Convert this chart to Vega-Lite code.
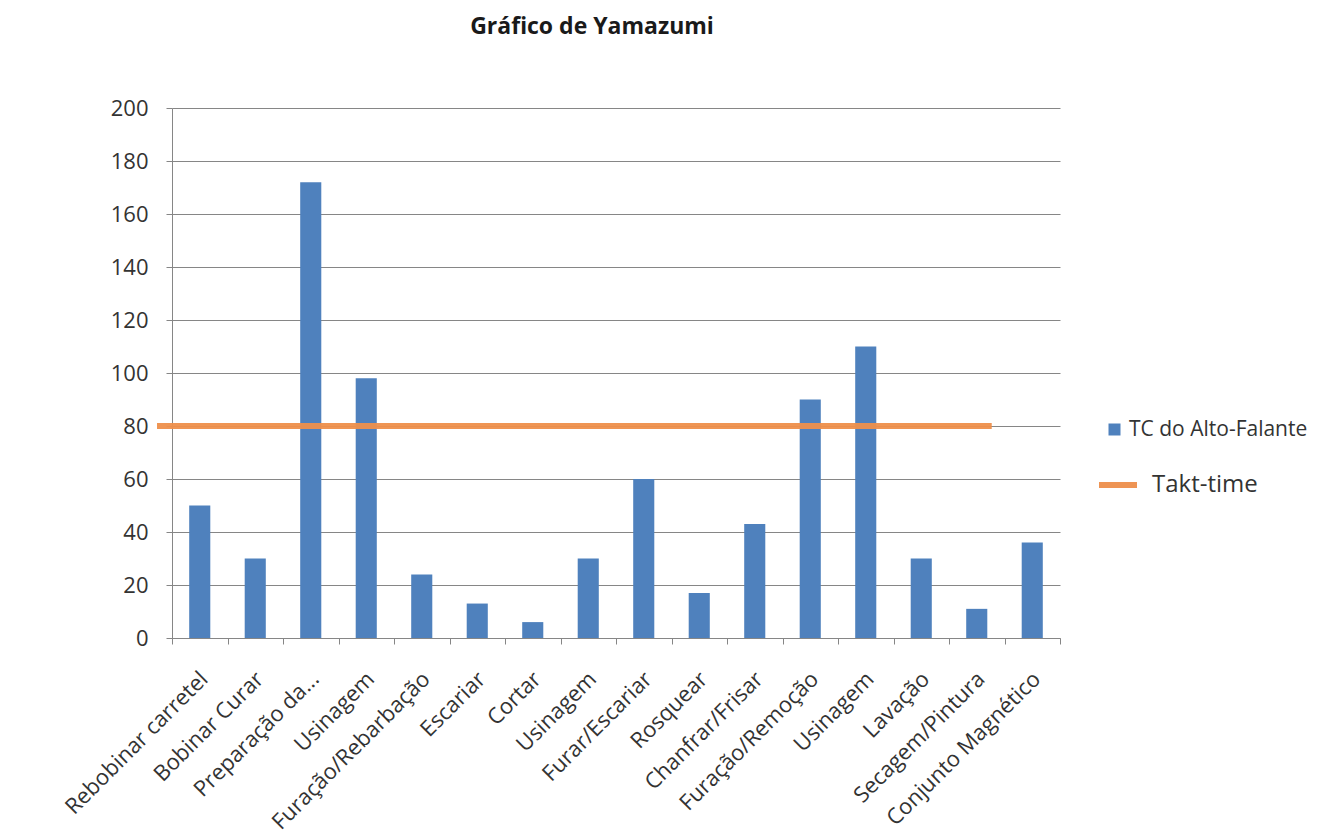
{
  "$schema": "https://vega.github.io/schema/vega-lite/v6.json",
  "width": 888,
  "height": 530,
  "autosize": {"type": "none"},
  "padding": {"left": 172, "top": 108, "right": 281, "bottom": 201},
  "background": "white",
  "title": {
    "text": "Gráfico de Yamazumi",
    "font": "Open Sans",
    "fontSize": 23,
    "fontWeight": "bold",
    "color": "#1a1a1a",
    "anchor": "middle",
    "dx": -24,
    "offset": 58
  },
  "datasets": {
    "etapas": [
      {"chave": "01|Rebobinar carretel", "tc": 50, "serie": "TC do Alto-Falante"},
      {"chave": "02|Bobinar Curar", "tc": 30, "serie": "TC do Alto-Falante"},
      {"chave": "03|Preparação da...", "tc": 172, "serie": "TC do Alto-Falante"},
      {"chave": "04|Usinagem", "tc": 98, "serie": "TC do Alto-Falante"},
      {"chave": "05|Furação/Rebarbação", "tc": 24, "serie": "TC do Alto-Falante"},
      {"chave": "06|Escariar", "tc": 13, "serie": "TC do Alto-Falante"},
      {"chave": "07|Cortar", "tc": 6, "serie": "TC do Alto-Falante"},
      {"chave": "08|Usinagem", "tc": 30, "serie": "TC do Alto-Falante"},
      {"chave": "09|Furar/Escariar", "tc": 60, "serie": "TC do Alto-Falante"},
      {"chave": "10|Rosquear", "tc": 17, "serie": "TC do Alto-Falante"},
      {"chave": "11|Chanfrar/Frisar", "tc": 43, "serie": "TC do Alto-Falante"},
      {"chave": "12|Furação/Remoção", "tc": 90, "serie": "TC do Alto-Falante"},
      {"chave": "13|Usinagem", "tc": 110, "serie": "TC do Alto-Falante"},
      {"chave": "14|Lavação", "tc": 30, "serie": "TC do Alto-Falante"},
      {"chave": "15|Secagem/Pintura", "tc": 11, "serie": "TC do Alto-Falante"},
      {"chave": "16|Conjunto Magnético", "tc": 36, "serie": "TC do Alto-Falante"}
    ],
    "takt": [
      {"referencia": "Takt-time", "tempo": 80, "inicio": -0.27, "fim": 14.77}
    ]
  },
  "layer": [
    {
      "data": {"name": "etapas"},
      "mark": {"type": "bar", "width": {"band": 0.38}},
      "encoding": {
        "x": {
          "field": "chave",
          "type": "nominal",
          "sort": null,
          "scale": {"paddingInner": 0, "paddingOuter": 0},
          "axis": {
            "title": null,
            "labelExpr": "split(datum.value, '|')[1]",
            "labelAngle": -45,
            "labelAlign": "right",
            "labelBaseline": "top",
            "labelFont": "Open Sans",
            "labelFontSize": 22,
            "labelColor": "#333333",
            "labelPadding": 24,
            "labelOffset": -3,
            "labelLimit": 400,
            "labelOverlap": false,
            "tickBand": "extent",
            "tickSize": 6,
            "tickColor": "#868686",
            "domainColor": "#868686",
            "grid": false
          }
        },
        "y": {
          "field": "tc",
          "type": "quantitative",
          "scale": {"domain": [0, 200], "nice": false},
          "axis": {
            "title": null,
            "values": [0, 20, 40, 60, 80, 100, 120, 140, 160, 180, 200],
            "labelFont": "Open Sans",
            "labelFontSize": 22,
            "labelColor": "#333333",
            "labelPadding": 18,
            "tickSize": 6,
            "tickColor": "#868686",
            "domainColor": "#868686",
            "grid": true,
            "gridColor": "#868686",
            "gridOpacity": 1
          }
        },
        "color": {
          "field": "serie",
          "type": "nominal",
          "scale": {"range": ["#4F81BD"]},
          "legend": {
            "title": null,
            "orient": "none",
            "legendX": 932,
            "legendY": 311,
            "padding": 0,
            "symbolType": "square",
            "symbolSize": 144,
            "symbolOpacity": 1,
            "labelFont": "Open Sans",
            "labelFontSize": 21,
            "labelColor": "#333333",
            "labelOffset": 4,
            "labelLimit": 400
          }
        }
      }
    },
    {
      "data": {"name": "takt"},
      "mark": {"type": "rule", "strokeWidth": 6, "opacity": 0.95},
      "encoding": {
        "x": {
          "field": "inicio",
          "type": "quantitative",
          "scale": {"domain": [0, 16], "nice": false, "zero": false},
          "axis": null
        },
        "x2": {"field": "fim"},
        "y": {"field": "tempo", "type": "quantitative"},
        "color": {
          "field": "referencia",
          "type": "nominal",
          "scale": {"range": ["#EE8F4B"]},
          "legend": {
            "title": null,
            "orient": "none",
            "legendX": 924,
            "legendY": 355,
            "padding": 0,
            "symbolType": "stroke",
            "symbolStrokeWidth": 6,
            "symbolSize": 1444,
            "labelFont": "Open Sans",
            "labelFontSize": 24,
            "labelColor": "#333333",
            "labelOffset": 12,
            "labelLimit": 400
          }
        }
      }
    }
  ],
  "resolve": {"scale": {"x": "independent", "color": "independent"}},
  "config": {"view": {"stroke": null}}
}
